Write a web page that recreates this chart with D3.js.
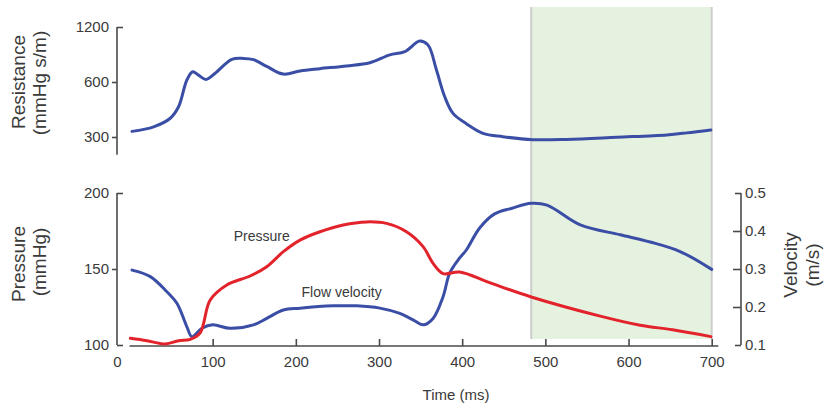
<!DOCTYPE html>
<html>
<head>
<meta charset="utf-8">
<script src="https://cdn.jsdelivr.net/npm/d3@7"></script>
<style>
  body { margin: 0; background: #fff; }
  svg text { font-family: "Liberation Sans", Arial, sans-serif; fill: #3a3a3a; }
</style>
</head>
<body>
<svg id="chart" width="828" height="404"></svg>
<script>
// data
var resistTime   = [3, 29, 49, 59, 69, 76, 83, 92, 103, 123, 137, 149, 165, 185, 205, 229, 261, 289, 313, 331, 349, 359, 369, 379, 389, 405, 425, 449, 485, 526, 586, 646, 670, 699];
var resistValues = [322, 341, 380, 439, 615, 682, 654, 620, 670, 798, 808, 795, 730, 663, 690, 710, 735, 765, 845, 880, 1005, 955, 700, 498, 404, 355, 314, 301, 290, 291, 299, 308, 316, 328];

var pressureTime   = [1, 21, 43, 59, 73, 85, 97, 117, 145, 165, 185, 205, 229, 257, 285, 309, 333, 353, 365, 377, 397, 433, 483, 566, 614, 653, 699];
var pressureValues = [104.4, 102.8, 100.7, 102.8, 103.7, 108, 129.6, 139.5, 145.4, 151.5, 161.4, 169, 174.5, 179, 181, 180, 174.5, 164.7, 153.7, 147, 148, 141, 131.6, 119, 113, 110, 105.5];

var velocityTime   = [3, 25, 45, 57, 69, 75, 87, 100, 121, 149, 165, 185, 205, 245, 273, 301, 325, 341, 353, 365, 377, 385, 397, 405, 421, 439, 460, 483, 502, 542, 590, 626, 662, 700];
var velocityValues = [0.297, 0.28, 0.24, 0.21, 0.148, 0.122, 0.144, 0.153, 0.144, 0.153, 0.17, 0.192, 0.197, 0.203, 0.203, 0.197, 0.183, 0.166, 0.153, 0.17, 0.227, 0.289, 0.329, 0.35, 0.408, 0.445, 0.46, 0.473, 0.468, 0.416, 0.39, 0.371, 0.346, 0.299];

var timeTicks     = [100, 200, 300, 400, 500, 600, 700];
var resistTicks   = [300, 600, 1200];
var pressureTicks = [100, 150, 200];
var velocityTicks = [0.1, 0.2, 0.3, 0.4, 0.5];
var shadedSpan    = [483, 700];

var blue = "#3b4ea6", red = "#e3232b", axisColor = "#4a4a4a";
var svg = d3.select("#chart");

// scales
var x = d3.scaleLinear().domain([0, 700]).range([129.5, 711.7]);
var yRes = d3.scaleLog().domain([240, 1200]).range([154.7, 27]);
var yP = d3.scaleLinear().domain([100, 200]).range([345, 193]);
var yV = d3.scaleLinear().domain([0.1, 0.5]).range([345, 193]);

// shaded region
svg.append("rect")
    .attr("x", x(shadedSpan[0]))
    .attr("y", 7)
    .attr("width", x(shadedSpan[1]) - x(shadedSpan[0]))
    .attr("height", 332)
    .attr("fill", "#e6f2e0");
shadedSpan.forEach(t => {
    svg.append("line")
        .attr("x1", x(t)).attr("x2", x(t))
        .attr("y1", 7).attr("y2", 339)
        .attr("stroke", "#cdcdcd")
        .attr("stroke-width", 2);
});

// axes helpers
function styleAxis(g) {
    g.select(".domain").remove();
    g.selectAll("line").attr("stroke", axisColor).attr("stroke-width", 1.6);
    g.selectAll("text").style("font-size", "15px").attr("fill", "#3a3a3a");
}

// top panel: resistance
var gRes = svg.append("g").attr("transform", "translate(117,0)")
    .call(d3.axisLeft(yRes).tickValues(resistTicks).tickFormat(d3.format("d")).tickSize(5).tickPadding(3));
styleAxis(gRes);
gRes.selectAll(".tick line").filter(d => d === 1200).attr("x2", 6);
gRes.append("line").attr("x1", 0).attr("x2", 0)
    .attr("y1", yRes(1200)).attr("y2", yRes(240))
    .attr("stroke", axisColor).attr("stroke-width", 1.6);

// bottom panel: pressure axis
var gP = svg.append("g").attr("transform", "translate(117,0)")
    .call(d3.axisLeft(yP).tickValues(pressureTicks).tickSize(5).tickPadding(3));
styleAxis(gP);
gP.selectAll(".tick line").filter(d => d === 100 || d === 200).attr("x2", 6);
gP.append("line").attr("x1", 0).attr("x2", 0)
    .attr("y1", yP(200)).attr("y2", yP(100))
    .attr("stroke", axisColor).attr("stroke-width", 1.6);

// velocity axis
var gV = svg.append("g").attr("transform", "translate(741,0)")
    .call(d3.axisRight(yV).tickValues(velocityTicks).tickFormat(d3.format(".1f")).tickSize(-8).tickPadding(4));
styleAxis(gV);
gV.selectAll(".tick line").filter(d => d === 0.1 || d === 0.5).attr("x2", -6);
gV.append("line").attr("x1", 0).attr("x2", 0)
    .attr("y1", yV(0.5)).attr("y2", yV(0.1))
    .attr("stroke", axisColor).attr("stroke-width", 1.6);

// time axis
var gX = svg.append("g").attr("transform", "translate(0,346)")
    .call(d3.axisBottom(x).tickValues([0].concat(timeTicks)).tickSize(-7).tickPadding(10));
styleAxis(gX);
gX.selectAll(".tick").filter(d => d === 0).each(function() {
    d3.select(this).select("line").remove();
    d3.select(this).select("text").attr("x", 117 - x(0));
});
gX.append("line").attr("x1", x(0)).attr("x2", x(708))
    .attr("y1", 0).attr("y2", 0)
    .attr("stroke", axisColor).attr("stroke-width", 1.6);

// lines
function drawLine(times, values, yScale, color) {
    var pts = times.map((t, i) => [t, values[i]]);
    svg.append("path")
        .datum(pts)
        .attr("fill", "none")
        .attr("stroke", color)
        .attr("stroke-width", 3)
        .attr("stroke-linejoin", "round")
        .attr("stroke-linecap", "round")
        .attr("d", d3.line()
            .x(d => x(d[0]))
            .y(d => yScale(d[1]))
            .curve(d3.curveCatmullRom.alpha(0.5)));
}
drawLine(resistTime, resistValues, yRes, blue);
drawLine(velocityTime, velocityValues, yV, blue);
drawLine(pressureTime, pressureValues, yP, red);

// in-plot labels
svg.append("text").attr("x", x(159)).attr("y", yP(168.4))
    .attr("text-anchor", "middle").style("font-size", "14px").text("Pressure");
svg.append("text").attr("x", x(255)).attr("y", yV(0.226))
    .attr("text-anchor", "middle").style("font-size", "14px").text("Flow velocity");

// axis titles
function vTitle(tx, ty, txt) {
    svg.append("text")
        .attr("transform", `translate(${tx},${ty}) rotate(-90)`)
        .attr("text-anchor", "middle")
        .style("font-size", "19px")
        .text(txt);
}
vTitle(25, 82, "Resistance");
vTitle(46, 83, "(mmHg s/m)");
vTitle(25, 264, "Pressure");
vTitle(46, 262, "(mmHg)");
vTitle(797, 265, "Velocity");
vTitle(819, 265, "(m/s)");

svg.append("text").attr("x", 456).attr("y", 400)
    .attr("text-anchor", "middle").style("font-size", "15px").text("Time (ms)");
</script>
</body>
</html>
